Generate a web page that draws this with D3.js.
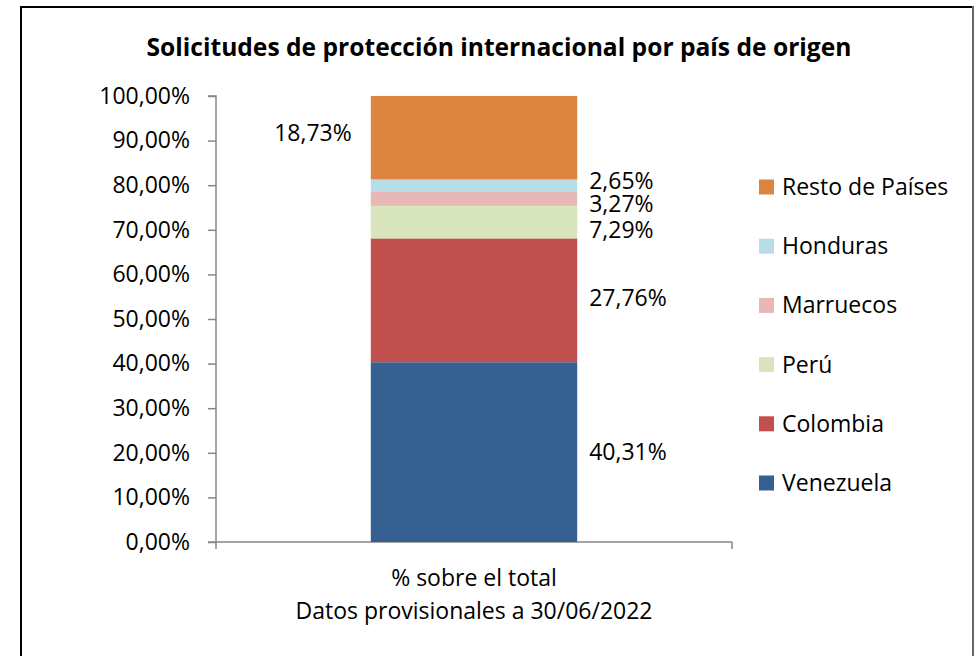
<!DOCTYPE html>
<html>
<head>
<meta charset="utf-8">
<script src="https://cdn.jsdelivr.net/npm/d3@7"></script>
<style>
    body { margin: 0; background: #fff; }
    text { font-family: "Open Sans", Lato, sans-serif; fill: #000; }
</style>
</head>
<body>
<svg id="SVG_CONTAINER" width="976" height="656"></svg>
<script>
// data (bottom to top of the stack)
const countries = ["Venezuela", "Colombia", "Perú", "Marruecos", "Honduras", "Resto de Países"];
const shares    = [40.31, 27.76, 7.29, 3.27, 2.65, 18.73];
const colours   = ["#366092", "#c0504d", "#d8e4bc", "#e6b9b8", "#b7dde8", "#dd843e"];
const yTicks    = [0, 10, 20, 30, 40, 50, 60, 70, 80, 90, 100];
const category  = "% sobre el total";

const width = 976, height = 656;
const MARGIN = { LEFT: 216, RIGHT: 244, TOP: 96, BOTTOM: 114 };
const FONT = "23px";

let svg = d3.select("#SVG_CONTAINER");

// outer frame
svg.append("path")
    .attr("d", "M21,660 L21,7 L973,7")
    .attr("fill", "none")
    .attr("stroke", "#000")
    .attr("stroke-width", 2);
svg.append("line")
    .attr("x1", 973).attr("y1", 6).attr("x2", 973).attr("y2", 660)
    .attr("stroke", "#666").attr("stroke-width", 2);

// title
svg.append("text")
    .attr("x", 499)
    .attr("y", 56)
    .attr("text-anchor", "middle")
    .attr("font-weight", "bold")
    .style("font-size", "24.6px")
    .text("Solicitudes de protección internacional por país de origen");

//** SCALES *****************************************
let yScale = d3.scaleLinear()
    .domain([0, 100])
    .range([height - MARGIN.BOTTOM, MARGIN.TOP]);

let xScale = d3.scaleBand()
    .domain([category])
    .range([MARGIN.LEFT, width - MARGIN.RIGHT])
    .paddingInner(0)
    .paddingOuter(0.75);

let fmt = v => d3.format(".2f")(v).replace(".", ",") + "%";

//** AXES *****************************************
let yAxis = d3.axisLeft(yScale)
    .tickValues(yTicks)
    .tickSize(8)
    .tickPadding(18)
    .tickFormat(fmt);

let gy = svg.append("g")
    .attr("transform", "translate(" + MARGIN.LEFT + ",0)")
    .call(yAxis);
gy.select(".domain").attr("stroke", "#868686").attr("stroke-width", 1.5).attr("d",
    "M-8," + yScale(100) + "H0V" + yScale(0));
gy.selectAll(".tick line").attr("stroke", "#868686").attr("stroke-width", 1.5);
gy.selectAll(".tick text")
    .style("font-size", FONT)
    .style("font-family", "'Open Sans', Lato, sans-serif")
    .attr("fill", "#000");

let x0 = MARGIN.LEFT, x1 = width - MARGIN.RIGHT;
let y0 = yScale(0);
svg.append("line")
    .attr("x1", x0 - 8).attr("x2", x1).attr("y1", y0).attr("y2", y0)
    .attr("stroke", "#868686").attr("stroke-width", 1.5);
[x0, x1].forEach(function (x) {
    svg.append("line")
        .attr("x1", x).attr("x2", x).attr("y1", y0).attr("y2", y0 + 7)
        .attr("stroke", "#868686").attr("stroke-width", 1.5);
});

svg.append("text")
    .attr("x", (x0 + x1) / 2)
    .attr("y", 578)
    .attr("dy", "0.35em")
    .attr("text-anchor", "middle")
    .style("font-size", FONT)
    .text(category);
svg.append("text")
    .attr("x", (x0 + x1) / 2)
    .attr("y", 611)
    .attr("dy", "0.35em")
    .attr("text-anchor", "middle")
    .style("font-size", FONT)
    .text("Datos provisionales a 30/06/2022");

//** STACKED BAR *****************************************
let stackRows = [Object.fromEntries(countries.map((c, i) => [c, shares[i]]))];
let series = d3.stack().keys(countries)(stackRows);

svg.append("g")
    .selectAll("rect")
    .data(series)
    .enter()
    .append("rect")
    .attr("x", xScale(category))
    .attr("width", xScale.bandwidth())
    .attr("y", d => yScale(d[0][1]))
    .attr("height", d => yScale(d[0][0]) - yScale(d[0][1]))
    .attr("fill", (d, i) => colours[i]);

// data labels, nudged apart where the thin slices crowd together (as in the original)
let labelNudge = [0, -2, 7.5, 5.5, -4.5, -5];
let barRight = xScale(category) + xScale.bandwidth();
series.forEach(function (s, i) {
    let mid = yScale((s[0][0] + s[0][1]) / 2) + labelNudge[i];
    let last = i === series.length - 1;
    svg.append("text")
        .attr("x", last ? xScale(category) - 19 : barRight + 12)
        .attr("y", mid)
        .attr("dy", "0.35em")
        .attr("text-anchor", last ? "end" : "start")
        .style("font-size", FONT)
        .text(fmt(shares[i]));
});

//** LEGEND *****************************************
let legend = svg.append("g");
countries.slice().reverse().forEach(function (c, j) {
    let i = countries.length - 1 - j;
    let ly = 187 + j * 59.2;
    legend.append("rect")
        .attr("x", 759).attr("y", ly - 7.5)
        .attr("width", 15).attr("height", 15)
        .attr("fill", colours[i]);
    legend.append("text")
        .attr("x", 782).attr("y", ly)
        .attr("dy", "0.35em")
        .style("font-size", FONT)
        .text(c);
});
</script>
</body>
</html>
